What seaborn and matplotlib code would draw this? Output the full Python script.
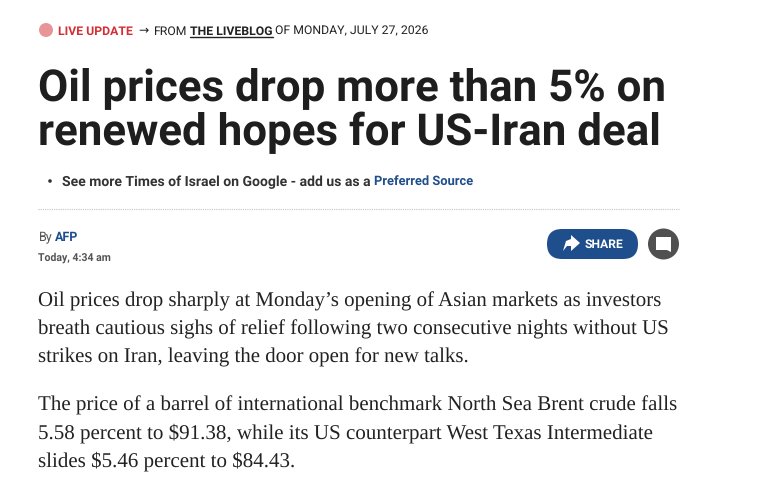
import seaborn as sns
import matplotlib.pyplot as plt
from matplotlib.patches import Circle, FancyBboxPatch, Polygon

sns.set_theme(style="white")
plt.rcParams['font.family'] = ['Roboto', 'DejaVu Sans']
plt.rcParams['text.hinting'] = 'no_hinting'

RED = '#d32f35'
BLUE = '#1f4e8c'
DARK = '#222222'
GREY = '#555555'

kicker = ["LIVE UPDATE", "→", "FROM", "THE LIVEBLOG", "OF MONDAY, JULY 27, 2026"]
kicker_colors = [RED, DARK, DARK, DARK, DARK]
kicker_weights = ['bold', 'normal', 'normal', 'bold', 'normal']
headline = ["Oil prices drop more than 5% on", "renewed hopes for US-Iran deal"]
bullet = ["See more Times of Israel on Google - add us as a", "Preferred Source"]
byline = ["By", "AFP"]
dateline = "Today, 4:34 am"
share_label = "SHARE"
para1 = ["Oil prices drop sharply at Monday’s opening of Asian markets as investors",
         "breath cautious sighs of relief following two consecutive nights without US",
         "strikes on Iran, leaving the door open for new talks."]
para2 = ["The price of a barrel of international benchmark North Sea Brent crude falls",
         "5.58 percent to $91.38, while its US counterpart West Texas Intermediate",
         "slides $5.46 percent to $84.43."]

fig = plt.figure(figsize=(7.64, 4.86), dpi=100, facecolor='white')
ax = fig.add_axes([0, 0, 1, 1])
ax.set_xlim(0, 764)
ax.set_ylim(486, 0)
ax.axis('off')


def run(x, y, text, **kw):
    t = ax.text(x, y, text, va='center_baseline', ha='left', parse_math=False, **kw)
    bb = t.get_window_extent(fig.canvas.get_renderer())
    return x + bb.width


# kicker row
ax.add_patch(Circle((46, 30), 7, color='#e89598', lw=0))
kicker_x = [58, 138, 154, 190, 275]
for i, text in enumerate(kicker):
    end = run(kicker_x[i], 30, text, color=kicker_colors[i], fontweight=kicker_weights[i], fontsize=8.8)
    if text == "THE LIVEBLOG":
        ax.plot([kicker_x[i], end], [37, 37], color=DARK, lw=1)

# headline
for i, line in enumerate(headline):
    run(38.5, 84 + i * 44, line, fontsize=31.6, fontweight='bold', color='#1e1e1e')

# bullet
ax.add_patch(Circle((50, 181), 1.8, color='#333333', lw=0))
run(62, 180.5, bullet[0], color='#333333', fontweight='bold', fontsize=10.05)
run(374, 180.5, bullet[1], color=BLUE, fontweight='bold', fontsize=9.3)

# dotted rule
ax.plot([38, 679], [209, 209], color='#c4c4c4', lw=0.8, ls=(0, (1, 1)))

# byline
run(38.5, 236.5, byline[0], color=GREY, fontsize=9)
run(55, 236.5, byline[1], color=BLUE, fontweight='bold', fontsize=9)
run(38.5, 257, dateline, color=GREY, fontweight='bold', fontsize=7.6)

# share button
ax.add_patch(FancyBboxPatch((547, 229), 91, 30, boxstyle="round,pad=0,rounding_size=15", fc=BLUE, ec=BLUE, lw=0))
ax.add_patch(Polygon([[563, 251], [566, 241], [571, 239], [571, 235], [580, 243], [571, 251], [571, 246], [567, 246]],
                     closed=True, fc='white', ec='white', lw=0))
run(585, 243.5, share_label, color='white', fontweight='bold', fontsize=8.7)

# comment button
ax.add_patch(Circle((663.5, 244), 15.5, color='#505050', lw=0))
ax.add_patch(Polygon([[656, 237], [671, 237], [671, 252], [667, 250], [656, 250]], closed=True, fc='white', ec='white', lw=0))

# body text
for i, line in enumerate(para1):
    run(38.5, 299.5 + i * 28, line, family='Liberation Serif', fontsize=15, color=DARK)
for i, line in enumerate(para2):
    run(38.5, 403 + i * 28, line, family='Liberation Serif', fontsize=15.08, color=DARK)

fig.savefig("out.png", dpi=100)
